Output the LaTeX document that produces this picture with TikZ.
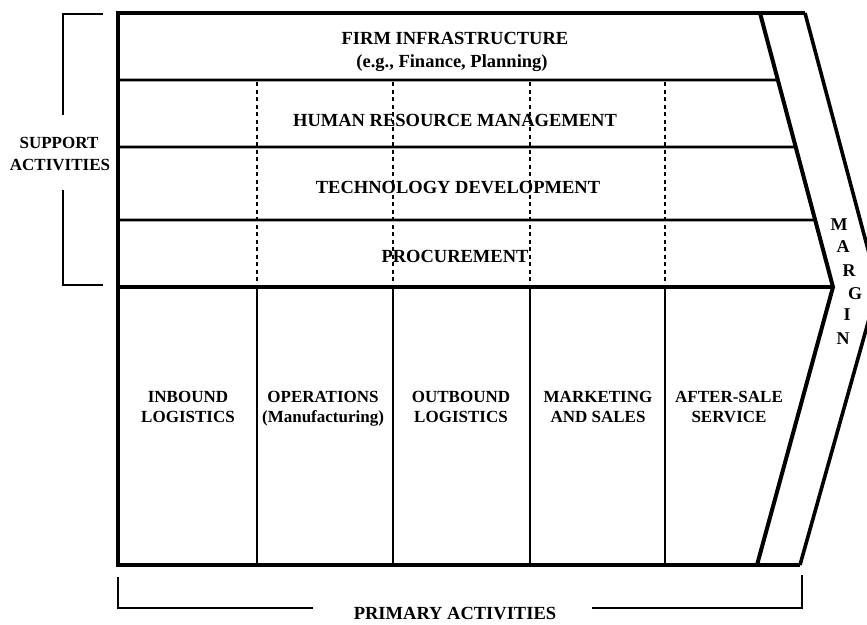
\documentclass[tikz,border=0pt]{standalone}
\usepackage{fontspec}
\setmainfont{Liberation Serif}
\usetikzlibrary{calc}
\begin{document}
\begin{tikzpicture}[x=1pt,y=-1pt,
  heavy/.style={line width=4pt,line join=miter},
  rowline/.style={line width=2.8pt},
  colline/.style={line width=1.8pt},
  dashline/.style={line width=1.5pt,dash pattern=on 4pt off 3.5pt},
  brack/.style={line width=2.5pt,line join=miter},
  suplbl/.style={font=\bfseries\fontsize{18.5}{22}\selectfont,inner sep=0pt,anchor=base},
  primlbl/.style={font=\bfseries\fontsize{17}{20}\selectfont,inner sep=0pt,anchor=base},
  sidelbl/.style={font=\bfseries\fontsize{17}{20}\selectfont,inner sep=0pt,anchor=base},
  marglbl/.style={font=\bfseries\fontsize{18}{20}\selectfont,inner sep=0pt}]
\useasboundingbox (0,0) rectangle (867,624);
\clip (0,0) rectangle (867,624);
\fill[white] (0,0) rectangle (867,624);
% key points
\coordinate (TL) at (118,13);
\coordinate (BL) at (118,565);
\coordinate (IT) at (760,13);
\coordinate (IP) at (833,287);
\coordinate (IB) at (757,565);
\coordinate (OT) at (805,13);
\coordinate (OP) at (878,287);
\coordinate (OB) at (800,565);
\coordinate (ML) at (118,287);
% outline
\draw[heavy] (OT) -- (TL) -- (BL) -- (OB);
\draw[heavy] (IT) -- (IP) -- (IB);
\draw[line width=3.6pt,line join=miter] (OT) -- (OP) -- (OB);
\draw[line width=4.6pt] (ML) -- (IP);
% support rows
\draw[rowline] (118,80) -- ($(IT)!0.2445!(IP)$);
\draw[rowline] (118,147) -- ($(IT)!0.489!(IP)$);
\draw[rowline] (118,220) -- ($(IT)!0.7555!(IP)$);
% primary columns and dashed continuations
\foreach \x in {257,393,530,665}{
  \draw[colline] (\x,287) -- (\x,565);
  \draw[dashline] (\x,82) -- (\x,285);
}
% support labels
\node[suplbl] (fi) at (455,44) {FIRM INFRASTRUCTURE};
\node[suplbl] (fi2) at (452,67) {(e.g., Finance, Planning)};
\node[suplbl] (hr) at (455,126) {HUMAN RESOURCE MANAGEMENT};
\node[suplbl] (td) at (458,193) {TECHNOLOGY DEVELOPMENT};
\node[suplbl] (pr) at (455,262) {PROCUREMENT};
% primary labels
\node[primlbl] (ib1) at (188,402) {INBOUND};
\node[primlbl] (ib2) at (188,422) {LOGISTICS};
\node[primlbl] (op1) at (323,402) {OPERATIONS};
\node[primlbl] (op2) at (323,422) {(Manufacturing)};
\node[primlbl] (ob1) at (461,402) {OUTBOUND};
\node[primlbl] (ob2) at (461,422) {LOGISTICS};
\node[primlbl] (ms1) at (598,402) {MARKETING};
\node[primlbl] (ms2) at (598,422) {AND SALES};
\node[primlbl] (as1) at (729,402) {AFTER-SALE};
\node[primlbl] (as2) at (729,422) {SERVICE};
% margin letters
\node[marglbl] (m1) at (839,225) {M};
\node[marglbl] (m2) at (843,247) {A};
\node[marglbl] (m3) at (849,271) {R};
\node[marglbl] (m4) at (855,294) {G};
\node[marglbl] (m5) at (847,315) {I};
\node[marglbl] (m6) at (843,339) {N};
% support bracket
\coordinate (s1) at (103,14);
\coordinate (s2) at (63,14);
\coordinate (s3) at (63,115);
\coordinate (s4) at (63,190);
\coordinate (s5) at (63,285);
\coordinate (s6) at (103,285);
\draw[brack] (s1) -- (s2) -- (s3);
\draw[brack] (s4) -- (s5) -- (s6);
\node[sidelbl] (sa1) at (59,148) {SUPPORT};
\node[sidelbl] (sa2) at (60,170) {ACTIVITIES};
% primary bracket
\coordinate (p1) at (118,577);
\coordinate (p2) at (118,608);
\coordinate (p3) at (313,608);
\coordinate (p4) at (592,608);
\coordinate (p5) at (802,608);
\coordinate (p6) at (802,575);
\draw[brack] (p1) -- (p2) -- (p3);
\draw[brack] (p4) -- (p5) -- (p6);
\node[suplbl] (pa) at (455,619) {PRIMARY ACTIVITIES};
\end{tikzpicture}
\end{document}
